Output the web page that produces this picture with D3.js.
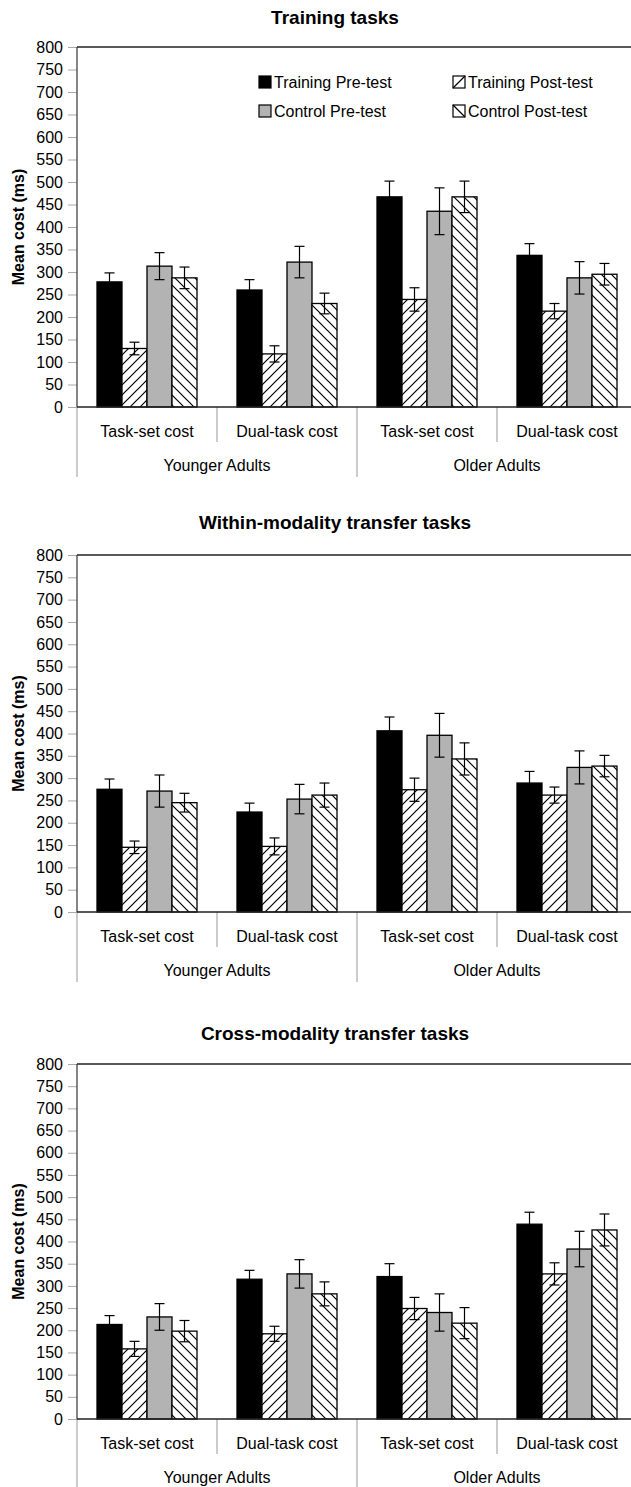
<!DOCTYPE html>
<html>
<head>
<meta charset="utf-8">
<script src="https://cdn.jsdelivr.net/npm/d3@7"></script>
<style>
  body { margin: 0; background: #fff; }
  text { font-family: "Liberation Sans", Arial, sans-serif; fill: #000; }
  .title { font-size: 19px; font-weight: bold; }
  .ytitle { font-size: 16px; font-weight: bold; }
  .lbl { font-size: 16px; }
</style>
</head>
<body>
<svg id="chart"></svg>
<script>
// Three grouped bar panels: mean cost (ms) with error bars

var panelTitles = ["Training tasks", "Within-modality transfer tasks", "Cross-modality transfer tasks"];
var groups = ["Younger Adults", "Older Adults"];
var costs = ["Task-set cost", "Dual-task cost"];
var seriesNames = ["Training Pre-test", "Training Post-test", "Control Pre-test", "Control Post-test"];
var yTicks = [0, 50, 100, 150, 200, 250, 300, 350, 400, 450, 500, 550, 600, 650, 700, 750, 800];

// one row per cluster (Younger task-set, Younger dual-task, Older task-set, Older dual-task)
var trainingMeans  = [[278, 130, 313, 287], [260, 118, 322, 230], [467, 239, 435, 467], [337, 213, 287, 295]];
var trainingErrors = [[20, 14, 30, 24], [23, 18, 35, 23], [35, 26, 52, 35], [26, 17, 36, 24]];
var withinMeans    = [[275, 145, 271, 245], [224, 147, 253, 262], [406, 274, 396, 343], [289, 262, 324, 327]];
var withinErrors   = [[23, 14, 36, 21], [20, 19, 33, 27], [31, 26, 49, 36], [26, 18, 37, 24]];
var crossMeans     = [[213, 158, 230, 198], [315, 192, 327, 282], [321, 249, 240, 216], [439, 327, 383, 426]];
var crossErrors    = [[20, 17, 30, 24], [20, 17, 32, 27], [29, 25, 42, 35], [27, 25, 40, 36]];

var width = 631, height = 1487
  , left = 77, right = 637   // plot runs a bit past the right edge, as in the source
  , hatch = 10
  , svg
  ;

var panels = [
  { title: panelTitles[0], means: trainingMeans, errors: trainingErrors, titleY: 17,   top: 47,   bottom: 407,  legend: true },
  { title: panelTitles[1], means: withinMeans,   errors: withinErrors,   titleY: 522,  top: 555,  bottom: 912,  legend: false },
  { title: panelTitles[2], means: crossMeans,    errors: crossErrors,    titleY: 1033, top: 1064, bottom: 1419, legend: false }
];

var clusters = [];
groups.forEach(function (g) { costs.forEach(function (c) { clusters.push(g + "|" + c); }); });

var x0 = d3.scaleBand().domain(clusters).range([left, right]);
var x1 = d3.scaleBand().domain(seriesNames).range([20, 120]);

function fillFor(i) {
  if (i === 0) return "#000";
  if (i === 1) return "url(#hatch-up)";
  if (i === 2) return "#b3b3b3";
  return "url(#hatch-down)";
}

function defs() {
  var d = svg.append("defs"), h = hatch;
  var up = d.append("pattern").attr("id", "hatch-up")
            .attr("patternUnits", "userSpaceOnUse").attr("width", h).attr("height", h);
  up.append("rect").attr("width", h).attr("height", h).attr("fill", "#fff");
  up.append("path").attr("d", "M-2,2 l4,-4 M0," + h + " l" + h + ",-" + h + " M" + (h - 2) + "," + (h + 2) + " l4,-4")
    .attr("stroke", "#000").attr("stroke-width", 1.2);
  var down = d.append("pattern").attr("id", "hatch-down")
              .attr("patternUnits", "userSpaceOnUse").attr("width", h).attr("height", h);
  down.append("rect").attr("width", h).attr("height", h).attr("fill", "#fff");
  down.append("path").attr("d", "M0,0 l" + h + "," + h + " M-2," + (h - 2) + " l4,4 M" + (h - 2) + ",-2 l4,4")
      .attr("stroke", "#000").attr("stroke-width", 1.2);
}

function drawPanel(p) {
  var y = d3.scaleLinear().domain([0, 800]).range([p.bottom, p.top]);
  var g = svg.append("g");

  g.append("text").attr("class", "title")
   .attr("x", 335).attr("y", p.titleY).attr("dy", "0.35em")
   .attr("text-anchor", "middle").text(p.title);

  // y axis
  var yAxis = d3.axisLeft(y).tickValues(yTicks).tickSize(9).tickPadding(5);
  var ax = g.append("g").attr("transform", "translate(" + left + ",0)").call(yAxis);
  ax.select(".domain").remove();
  ax.selectAll(".tick line").attr("stroke", "#aaa");
  ax.selectAll(".tick text").attr("class", "lbl").style("font-size", "16px")
    .style("font-family", "'Liberation Sans', Arial, sans-serif").attr("fill", "#000");

  g.append("text").attr("class", "ytitle")
   .attr("transform", "translate(18," + ((p.top + p.bottom) / 2) + ") rotate(-90)")
   .attr("dy", "0.35em").attr("text-anchor", "middle").text("Mean cost (ms)");

  // frame: top border, left axis, baseline
  g.append("line").attr("x1", left).attr("x2", width).attr("y1", p.top).attr("y2", p.top)
   .attr("stroke", "#222").attr("stroke-width", 1.5);
  g.append("line").attr("x1", left).attr("x2", left).attr("y1", p.top).attr("y2", p.bottom)
   .attr("stroke", "#333").attr("stroke-width", 1.2);
  g.append("line").attr("x1", left).attr("x2", left).attr("y1", p.bottom).attr("y2", p.bottom + 70)
   .attr("stroke", "#999").attr("stroke-width", 1);

  // category separators
  clusters.forEach(function (c, i) {
    var xr = x0(c) + x0.bandwidth();
    var major = (i % 2 === 1);
    g.append("line").attr("x1", xr).attr("x2", xr)
     .attr("y1", p.bottom).attr("y2", p.bottom + (major ? 70 : 35))
     .attr("stroke", "#999").attr("stroke-width", 1);
    g.append("text").attr("class", "lbl")
     .attr("x", x0(c) + x0.bandwidth() / 2).attr("y", p.bottom + 24).attr("dy", "0.35em")
     .attr("text-anchor", "middle").text(c.split("|")[1]);
  });
  groups.forEach(function (gr) {
    var a = x0(gr + "|" + costs[0]), b = x0(gr + "|" + costs[1]) + x0.bandwidth();
    g.append("text").attr("class", "lbl")
     .attr("x", (a + b) / 2).attr("y", p.bottom + 58).attr("dy", "0.35em")
     .attr("text-anchor", "middle").text(gr);
  });

  // bars
  clusters.forEach(function (c, ci) {
    var cg = g.append("g").attr("transform", "translate(" + x0(c) + ",0)");
    cg.selectAll("rect").data(p.means[ci]).enter().append("rect")
      .attr("x", function (d, i) { return x1(seriesNames[i]); })
      .attr("y", function (d) { return y(d); })
      .attr("width", x1.bandwidth())
      .attr("height", function (d) { return y(0) - y(d); })
      .attr("fill", function (d, i) { return fillFor(i); })
      .attr("stroke", "#000").attr("stroke-width", 1.3);

    // error bars
    p.means[ci].forEach(function (m, i) {
      var e = p.errors[ci][i]
        , cx = x1(seriesNames[i]) + x1.bandwidth() / 2
        ;
      cg.append("line").attr("x1", cx).attr("x2", cx).attr("y1", y(m - e)).attr("y2", y(m + e))
        .attr("stroke", "#000").attr("stroke-width", 1.2);
      [m - e, m + e].forEach(function (v) {
        cg.append("line").attr("x1", cx - 5).attr("x2", cx + 5).attr("y1", y(v)).attr("y2", y(v))
          .attr("stroke", "#000").attr("stroke-width", 1.2);
      });
    });
  });

  // x baseline on top of bars
  g.append("line").attr("x1", left).attr("x2", width).attr("y1", p.bottom).attr("y2", p.bottom)
   .attr("stroke", "#222").attr("stroke-width", 1.5);

  if (p.legend) drawLegend(g);
}

function drawLegend(g) {
  var pos = [[259, 82], [453, 82], [259, 111], [453, 111]];
  seriesNames.forEach(function (s, i) {
    var px = pos[i][0], py = pos[i][1];
    g.append("rect").attr("x", px).attr("y", py - 6).attr("width", 12).attr("height", 12)
     .attr("fill", (i === 0 || i === 2) ? fillFor(i) : "#fff")
     .attr("stroke", "#000").attr("stroke-width", 1.2);
    if (i === 1) {
      g.append("line").attr("x1", px).attr("y1", py + 6).attr("x2", px + 12).attr("y2", py - 6)
       .attr("stroke", "#000").attr("stroke-width", 1.2);
    } else if (i === 3) {
      g.append("line").attr("x1", px).attr("y1", py - 6).attr("x2", px + 12).attr("y2", py + 6)
       .attr("stroke", "#000").attr("stroke-width", 1.2);
    }
    g.append("text").attr("class", "lbl").attr("x", px + 15).attr("y", py).attr("dy", "0.35em").text(s);
  });
}

svg = d3.select("#chart").attr("width", width).attr("height", height);
defs();
panels.forEach(drawPanel);
</script>
</body>
</html>
